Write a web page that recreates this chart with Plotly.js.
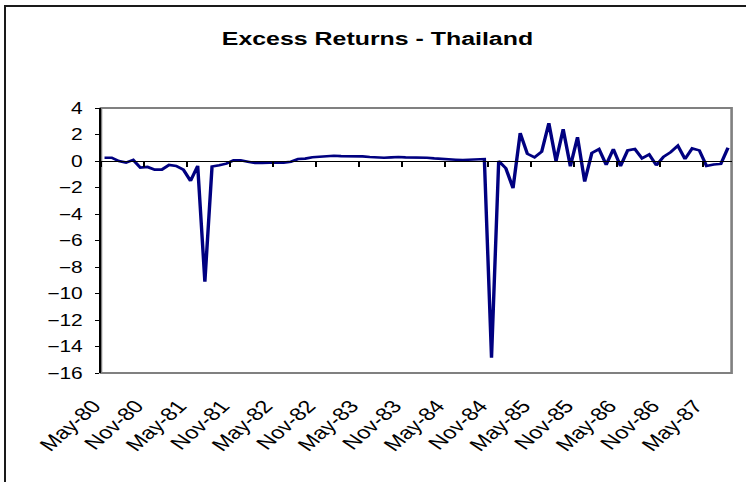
<!DOCTYPE html>
<html>
<head>
<meta charset="utf-8">
<script src="https://cdn.plot.ly/plotly-3.0.1.min.js"></script>
<style>
  html, body { margin: 0; padding: 0; background: #fff; overflow: hidden; }
  #wrap { position: relative; width: 746px; height: 482px; overflow: hidden; }
  #chart { position: absolute; left: 0; top: 0; width: 569px; height: 482px;
           transform: scaleX(1.3111); transform-origin: 0 0; }
  #frame { position: absolute; left: 4px; top: 5px; width: 800px; height: 600px;
           border-top: 2px solid #1a1a1a; border-left: 2px solid #1a1a1a;
           pointer-events: none; }
</style>
</head>
<body>
<div id="wrap">
  <div id="chart"></div>
  <div id="frame"></div>
</div>
<script>
// Monthly excess returns, Thailand, May-80 .. Aug-87
const excessReturns = [
  0.25, 0.25, 0.0, -0.12, 0.08, -0.5, -0.45, -0.65, -0.65, -0.3,
  -0.37, -0.65, -1.5, -0.37, -9.1, -0.42, -0.32, -0.2, 0.05, 0.05,
  -0.05, -0.15, -0.15, -0.1, -0.1, -0.12, -0.05, 0.15, 0.18, 0.28,
  0.33, 0.37, 0.4, 0.37, 0.37, 0.35, 0.35, 0.3, 0.27, 0.25,
  0.27, 0.3, 0.27, 0.27, 0.27, 0.25, 0.2, 0.15, 0.12, 0.1,
  0.07, 0.1, 0.12, 0.15, -14.85, 0.0, -0.55, -2.05, 2.1, 0.55,
  0.27, 0.7, 2.85, 0.0, 2.4, -0.4, 1.8, -1.55, 0.6, 0.9,
  -0.28, 0.9, -0.38, 0.8, 0.9, 0.2, 0.5, -0.32, 0.32, 0.67,
  1.15, 0.15, 0.95, 0.8, -0.38, -0.27, -0.22, 1.0
];

// Category axis labels, one every six months
const tickLabels = ['May-80', 'Nov-80', 'May-81', 'Nov-81', 'May-82', 'Nov-82',
  'May-83', 'Nov-83', 'May-84', 'Nov-84', 'May-85', 'Nov-85', 'May-86', 'Nov-86', 'May-87'];
const labelIndex = [0, 6, 12, 18, 24, 30, 36, 42, 48, 54, 60, 66, 72, 78, 84];

const yTicks = [-16, -14, -12, -10, -8, -6, -4, -2, 0, 2, 4];

const monthIndex = excessReturns.map((_, i) => i);
// tick marks sit on category boundaries
const boundaryTicks = labelIndex.map(i => i - 0.5);

const font = 'Arial, "Liberation Sans", sans-serif';

const traces = [
  {
    x: monthIndex, y: excessReturns, xaxis: 'x', yaxis: 'y',
    type: 'scatter', mode: 'lines',
    line: { color: '#000080', width: 2.6 },
    hoverinfo: 'skip'
  },
  { x: [], y: [], xaxis: 'x2', yaxis: 'y', type: 'scatter', mode: 'lines', hoverinfo: 'skip' }
];

const layout = {
  width: 569, height: 482,
  margin: { l: 77, r: 10.7, t: 107.5, b: 108.5, pad: 0 },
  paper_bgcolor: '#fff', plot_bgcolor: '#fff',
  showlegend: false,
  title: {
    text: 'Excess Returns - Thailand',
    font: { family: font, size: 19, color: '#000', weight: 'bold' },
    xref: 'container', yref: 'container',
    x: 0.506, y: 0.921, xanchor: 'center', yanchor: 'middle'
  },
  xaxis: {
    range: [-0.5, 87.5],
    tickmode: 'array', tickvals: boundaryTicks, ticktext: tickLabels,
    tickangle: -49, ticks: '', showline: false, showgrid: false, zeroline: false,
    tickfont: { family: font, size: 18, color: '#000' },
    ticklabelstandoff: 18, ticklabelshift: -6
  },
  xaxis2: {
    overlaying: 'x', anchor: 'free', position: 0.8, side: 'bottom',
    range: [-0.5, 87.5],
    tickmode: 'array', tickvals: boundaryTicks,
    ticks: 'outside', ticklen: 5, tickwidth: 1, tickcolor: '#000',
    showline: true, linecolor: '#000', linewidth: 1,
    showticklabels: false, showgrid: false, zeroline: false
  },
  yaxis: {
    range: [-16, 4],
    tickmode: 'array', tickvals: yTicks,
    ticks: 'outside', ticklen: 3.5, tickwidth: 1, tickcolor: '#000',
    showline: true, linecolor: '#000', linewidth: 1.2,
    showgrid: false, zeroline: false,
    tickfont: { family: font, size: 16, color: '#000' },
    ticklabelstandoff: 6
  },
  shapes: [{
    type: 'rect', xref: 'paper', yref: 'paper', x0: 0, x1: 1, y0: 0, y1: 1,
    line: { color: '#808080', width: 2 }, layer: 'below'
  }]
};

Plotly.newPlot('chart', traces, layout, { staticPlot: true, displayModeBar: false });
</script>
</body>
</html>
